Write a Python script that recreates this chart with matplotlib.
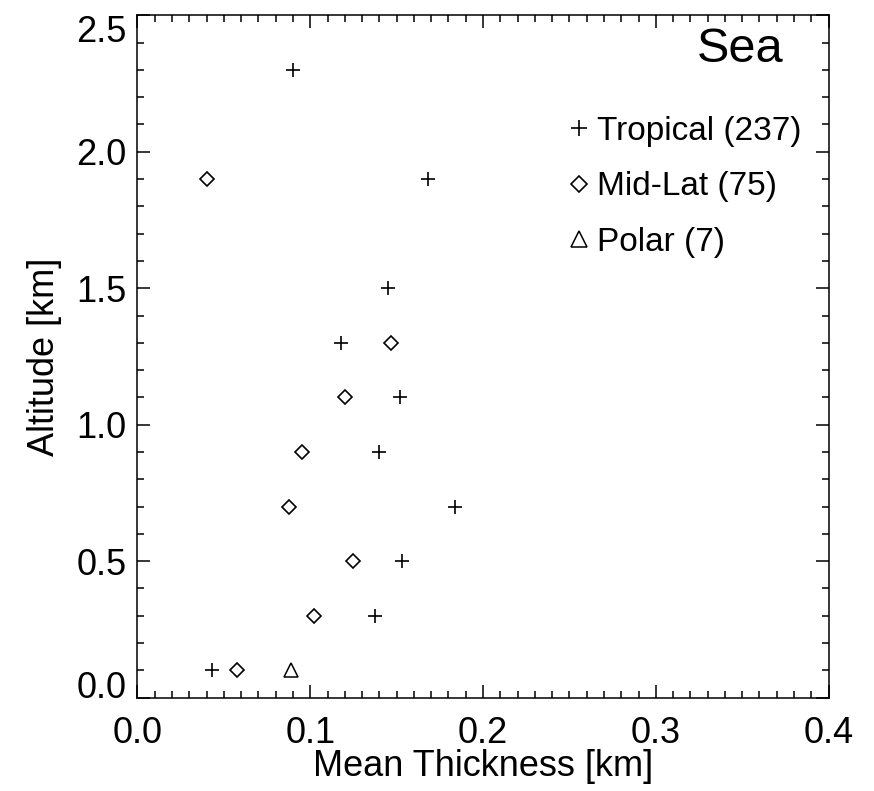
import matplotlib
matplotlib.use("Agg")
import matplotlib.pyplot as plt
from matplotlib.ticker import MultipleLocator, FormatStrFormatter

plt.rcParams["font.family"] = ["Liberation Sans", "DejaVu Sans"]

# mean thickness [km] per altitude bin [km]
trop_alt = [2.3, 1.9, 1.5, 1.3, 1.1, 0.9, 0.7, 0.5, 0.3, 0.1]
trop_thick = [0.090, 0.168, 0.145, 0.118, 0.152, 0.140, 0.184, 0.153, 0.1375, 0.043]

midlat_alt = [1.9, 1.3, 1.1, 0.9, 0.7, 0.5, 0.3, 0.1]
midlat_thick = [0.040, 0.147, 0.120, 0.095, 0.0877, 0.125, 0.102, 0.0575]

polar_alt = [0.1]
polar_thick = [0.0887]

labels = ["Tropical (237)", "Mid-Lat (75)", "Polar (7)"]

fig = plt.figure(figsize=(8.74, 7.91), dpi=100)
ax = fig.add_axes([0.1573, 0.118, 0.948 - 0.1573, 0.9807 - 0.118])

ax.plot(trop_thick, trop_alt, linestyle="none", marker="+", ms=9.4, mew=1.2,
        color="black", label=labels[0])
ax.plot(midlat_thick, midlat_alt, linestyle="none", marker="D", ms=7, mew=1.2,
        mfc="none", mec="black", label=labels[1])
ax.plot(polar_thick, polar_alt, linestyle="none", marker="^", ms=9.5, mew=1.1,
        mfc="none", mec="black", label=labels[2])

ax.set_xlim(0, 0.4)
ax.set_ylim(0, 2.5)
ax.xaxis.set_major_locator(MultipleLocator(0.1))
ax.xaxis.set_minor_locator(MultipleLocator(0.01))
ax.yaxis.set_major_locator(MultipleLocator(0.5))
ax.yaxis.set_minor_locator(MultipleLocator(0.1))
ax.xaxis.set_major_formatter(FormatStrFormatter("%.1f"))
ax.yaxis.set_major_formatter(FormatStrFormatter("%.1f"))

ax.tick_params(which="both", direction="in", top=True, right=True,
               labelsize=26, width=1.1, color="black")
ax.tick_params(which="major", length=9.4)
ax.tick_params(which="minor", length=5)
ax.tick_params(axis="x", pad=13)
ax.tick_params(axis="y", pad=8)
for s in ax.spines.values():
    s.set_linewidth(1.1)

ax.set_xlabel("Mean Thickness [km]", fontsize=26, labelpad=-1)
ax.set_ylabel("Altitude [km]", fontsize=26, labelpad=10)

ax.text(0.935, 0.95, "Sea", transform=ax.transAxes, fontsize=35,
        ha="right", va="center")

ax.legend(loc="upper left", bbox_to_anchor=(0.624, 0.853), frameon=False,
          fontsize=24, handlelength=0.6, handletextpad=0.25, labelspacing=0.74,
          borderaxespad=0, borderpad=0, numpoints=1, markerscale=1.15)

# keep the end labels of the y axis inside the frame, as in the original
fig.canvas.draw()
for tick in ax.yaxis.get_major_ticks():
    if abs(tick.get_loc() - 0.0) < 1e-9:
        tick.label1.set_verticalalignment("baseline")
    elif abs(tick.get_loc() - 2.5) < 1e-9:
        tick.label1.set_verticalalignment("top")

fig.savefig("out.png", dpi=100)
